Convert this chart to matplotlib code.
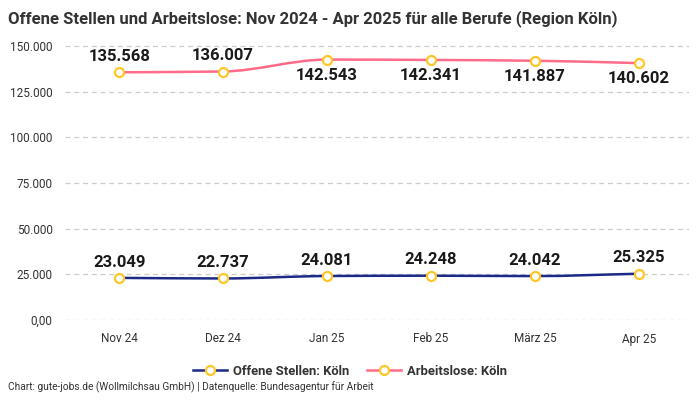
import numpy as np
import matplotlib
matplotlib.use("Agg")
import matplotlib.pyplot as plt
from matplotlib.path import Path
from matplotlib.patches import PathPatch
from matplotlib.lines import Line2D
from matplotlib.ticker import FuncFormatter

plt.rcParams['font.family'] = ['Roboto', 'DejaVu Sans']

months = ["Nov 24", "Dez 24", "Jan 25", "Feb 25", "März 25", "Apr 25"]
offene_stellen = [23049, 22737, 24081, 24248, 24042, 25325]
arbeitslose = [135568, 136007, 142543, 142341, 141887, 140602]
arbeitslose_label_pos = ["above", "above", "below", "below", "below", "below"]

blue = "#1b2a86"
pink = "#ff6b88"
marker_edge = "#ffc629"


def fmt_de(v):
    return f"{v:,.0f}".replace(",", ".")


def smooth_path(xs, ys):
    # monotone cubic bezier through the data points
    xs = np.asarray(xs, float)
    ys = np.asarray(ys, float)
    n = len(xs)
    d = np.diff(ys) / np.diff(xs)
    m = np.zeros(n)
    m[0], m[-1] = d[0], d[-1]
    for i in range(1, n - 1):
        if d[i - 1] * d[i] <= 0:
            m[i] = 0
        else:
            m[i] = 2 / (1 / d[i - 1] + 1 / d[i])
    verts = [(xs[0], ys[0])]
    codes = [Path.MOVETO]
    for i in range(n - 1):
        h = xs[i + 1] - xs[i]
        verts += [(xs[i] + h / 3, ys[i] + m[i] * h / 3),
                  (xs[i + 1] - h / 3, ys[i + 1] - m[i + 1] * h / 3),
                  (xs[i + 1], ys[i + 1])]
        codes += [Path.CURVE4] * 3
    return Path(verts, codes)


fig = plt.figure(figsize=(7, 4), dpi=100)
ax = fig.add_axes([0.093, 0.2, 0.891, 0.708])

x = np.arange(len(months))
for series, color in [(offene_stellen, blue), (arbeitslose, pink)]:
    ax.add_patch(PathPatch(smooth_path(x, series), fill=False, edgecolor=color,
                           lw=1.8, zorder=3))
    ax.plot(x, series, linestyle="none", marker="o", markersize=6.5,
            markerfacecolor="white", markeredgecolor=marker_edge,
            markeredgewidth=1.6, zorder=4)

for xi, v in zip(x, offene_stellen):
    ax.annotate(fmt_de(v), (xi, v), xytext=(0, 6), textcoords="offset points",
                ha="center", va="bottom", fontsize=12, fontweight="bold",
                color="#1a1a1a")
for xi, v, pos in zip(x, arbeitslose, arbeitslose_label_pos):
    if pos == "above":
        ax.annotate(fmt_de(v), (xi, v), xytext=(0, 6), textcoords="offset points",
                    ha="center", va="bottom", fontsize=12, fontweight="bold",
                    color="#1a1a1a")
    else:
        ax.annotate(fmt_de(v), (xi, v), xytext=(0, -6), textcoords="offset points",
                    ha="center", va="top", fontsize=12, fontweight="bold",
                    color="#1a1a1a")

ax.set_xlim(-0.52, 5.48)
ax.set_ylim(0, 155000)
ax.set_yticks([0, 25000, 50000, 75000, 100000, 125000, 150000])
ax.yaxis.set_major_formatter(FuncFormatter(lambda v, p: "0,00" if v == 0 else fmt_de(v)))
ax.set_xticks(x)
ax.set_xticklabels(months)
ax.tick_params(length=0, labelsize=8.5, labelcolor="#333333")
ax.tick_params(axis="x", pad=9)
ax.tick_params(axis="y", pad=9)
ax.grid(axis="y", linestyle=(0, (4, 3)), color="#cccccc", lw=0.9)
ax.set_axisbelow(True)
for s in ax.spines.values():
    s.set_visible(False)

fig.text(0.011, 0.975, "Offene Stellen und Arbeitslose: Nov 2024 - Apr 2025 für alle Berufe (Region Köln)",
         ha="left", va="top", fontsize=12, fontweight="bold", color="#333333")
fig.text(0.011, 0.018, "Chart: gute-jobs.de (Wollmilchsau GmbH) | Datenquelle: Bundesagentur für Arbeit",
         ha="left", va="bottom", fontsize=7.3, color="#333333")

handles = [Line2D([], [], color=blue, lw=1.8, marker="o", markersize=6.5,
                  markerfacecolor="white", markeredgecolor=marker_edge, markeredgewidth=1.6),
           Line2D([], [], color=pink, lw=1.8, marker="o", markersize=6.5,
                  markerfacecolor="white", markeredgecolor=marker_edge, markeredgewidth=1.6)]
fig.legend(handles, ["Offene Stellen: Köln", "Arbeitslose: Köln"], loc="center",
           bbox_to_anchor=(0.5, 0.072), ncol=2, frameon=False,
           prop={"size": 9.4, "weight": "bold"}, labelcolor="#333333",
           handlelength=2.6, columnspacing=1.3, handletextpad=0.5)

fig.savefig("out.png", dpi=100)
